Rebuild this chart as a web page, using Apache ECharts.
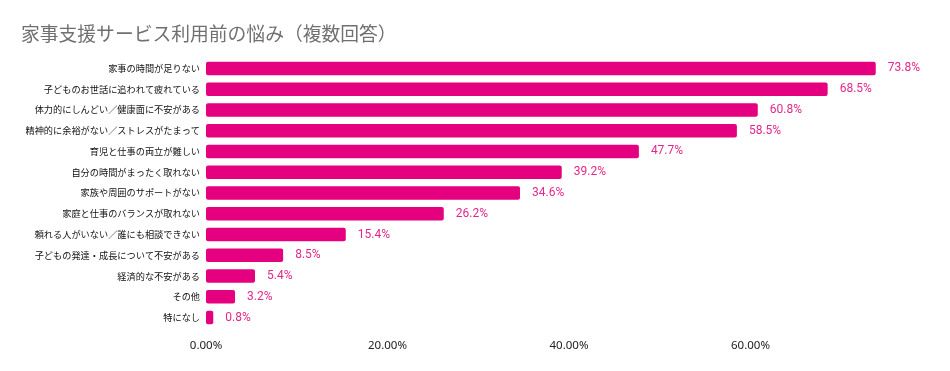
<!DOCTYPE html>
<html><head><meta charset="utf-8">
<script src="https://cdn.jsdelivr.net/npm/echarts@6/dist/echarts.min.js"></script>
<style>html,body{margin:0;padding:0;background:#fff}#c{width:950px;height:371px}</style>
</head><body><div id="c"></div>
<script>
const titleText = '家事支援サービス利用前の悩み（複数回答）';
const categories = [
  '家事の時間が足りない',
  '子どものお世話に追われて疲れている',
  '体力的にしんどい／健康面に不安がある',
  '精神的に余裕がない／ストレスがたまって',
  '育児と仕事の両立が難しい',
  '自分の時間がまったく取れない',
  '家族や周囲のサポートがない',
  '家庭と仕事のバランスが取れない',
  '頼れる人がいない／誰にも相談できない',
  '子どもの発達・成長について不安がある',
  '経済的な不安がある',
  'その他',
  '特になし'
];
const values = [73.8, 68.5, 60.8, 58.5, 47.7, 39.2, 34.6, 26.2, 15.4, 8.5, 5.4, 3.2, 0.8];
const axisTicks = [0, 20, 40, 60];

const chart = echarts.init(document.getElementById('c'));
chart.setOption({
  animation: false,
  textStyle: { fontFamily: '"Noto Sans CJK JP", "Noto Sans", sans-serif' },
  title: {
    text: titleText, left: 16, top: 19,
    textStyle: { fontSize: 18.8, fontWeight: 'normal', color: '#707070', fontFamily: '"Noto Sans CJK JP", sans-serif' }
  },
  grid: { left: 206, right: 18, top: 58, height: 270, containLabel: false },
  xAxis: {
    type: 'value', min: 0, max: 80, interval: 20,
    splitLine: { show: false }, axisLine: { show: false }, axisTick: { show: false },
    axisLabel: {
      margin: 12, fontSize: 11.5, color: '#222',
      fontFamily: '"Noto Sans", sans-serif',
      formatter: v => axisTicks.includes(v) ? v.toFixed(2) + '%' : ''
    }
  },
  yAxis: {
    type: 'category', data: categories, inverse: true,
    axisLine: { show: false }, axisTick: { show: false },
    axisLabel: { margin: 6, fontSize: 9.2, color: '#111', fontFamily: '"Noto Sans CJK JP", sans-serif' }
  },
  series: [{
    type: 'bar', data: values, barWidth: 13.5,
    itemStyle: { color: '#e4007f', borderRadius: 2 },
    label: {
      show: true, position: 'right', distance: 12, fontSize: 12, color: '#e5268a',
      fontFamily: 'Roboto, "Noto Sans", sans-serif',
      formatter: p => p.value.toFixed(1) + '%'
    }
  }]
});
</script></body></html>
